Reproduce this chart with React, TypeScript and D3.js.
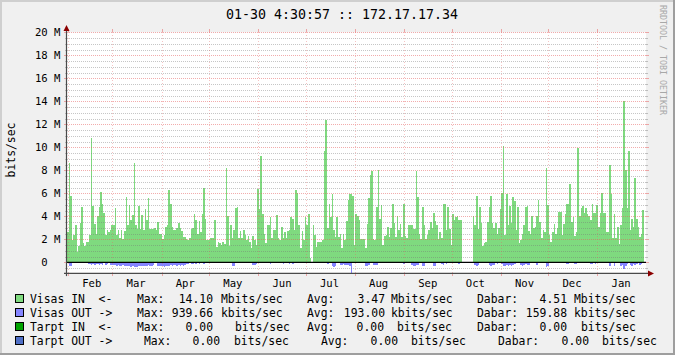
import React, { useEffect } from 'react';
import * as d3 from 'd3';

// ---- Data (values in Mbit/s, one per day starting 2010-01-31) ----
const visasIn: (number | null)[] = [
  // Feb - mid Apr
  2.67, 8.6, 5.8, 1.9, 2.4, 3.2, 0.9, 1.45, 3.4, 4.8,
  1.7, 1.4, 1.8, 1.8, 2.4, 10.8, 4.9, 3.3, 2.5, 4.0,
  4.8, 6.1, 5.1, 4.3, 2.4, 2.8, 2.6, 2.8, 3.2, 3.2,
  4.7, 2.4, 2.8, 2.1, 2.8, 2.0, 2.7, 5.7, 3.2, 5.0,
  3.7, 4.1, 8.6, 3.2, 2.9, 4.9, 2.9, 4.1, 2.8, 4.6,
  3.7, 5.6, 2.9, 2.9, 2.9, 3.0, 2.8, 3.5, 2.5, 2.5,
  2.0, 2.4, 3.1, 3.2, 6.3, 5.1, 3.1, 2.8, 2.8, 3.0,
  3.4,
  // mid Apr - late Jun
  3.0, 2.7, 2.2, 2.2, 2.0, 1.9, 2.1, 2.9, 3.0, 4.2,
  3.7, 2.5, 3.6, 2.6, 4.2, 6.5, 3.8, 1.9, 1.9, 2.1,
  2.1, 2.1, 3.7, 1.3, 1.8, 1.7, 1.5, 1.8, 1.6, 8.2,
  4.0, 1.4, 3.2, 2.1, 2.8, 4.7, 4.8, 2.1, 2.7, 2.1,
  2.8, 2.4, 1.9, 2.3, 1.8, 1.2, 2.3, 1.9, 1.5, 6.4,
  4.6, 9.2, 4.2, 2.5, 1.7, 3.2, 3.2, 3.9, 2.1, 2.8,
  2.8, 4.1, 2.1, 1.9, 3.1, 2.1, 2.6, 2.1, 2.7, 2.8,
  3.9, 3.8, 2.8,
  // late Jun - early Sep
  6.3, 6.0, 3.2, 1.2, 2.7, 1.9, 3.9, 3.2, 4.2, 0.4,
  null, 3.2, 2.4, 1.3, 1.8, 1.8, 1.8, 1.9, 9.7, 12.4,
  3.0, 5.1, 3.9, 5.9, 2.8, 2.2, 3.9, 2.2, 2.5, 1.2,
  2.5, 1.9, 3.6, 5.4, 5.9, 5.9, 5.8, 1.5, 4.2, 4.0,
  3.7, 2.0, 2.0, 2.0, 1.2, 3.3, 5.6, 7.6, 7.9, 2.0,
  1.9, 4.8, 8.0, 3.8, 5.0, 1.5, 2.3, 2.4, 3.1, 2.2,
  3.0, 5.1, 3.4, 2.2, 4.0, 2.8, 3.3, 2.2, 5.1, 2.3,
  2.1, 3.2, 3.2,
  // early Sep - mid Nov
  3.2, 2.9, 2.9, 7.9, 5.7, 2.5, 2.0, 4.8, 3.2, 2.0,
  2.4, 2.8, 3.5, 3.0, 4.3, 3.6, 3.2, 2.0, 2.6, 2.1,
  5.1, 5.1, 2.8, 4.8, 2.9, 1.5, 4.2, 3.7, 3.9, 4.0,
  3.7, 3.7, null, null, null, null, null, null, null,
  4.0, 3.2, 5.8, 2.9, 4.8, 3.4, 1.4, 1.7, 1.8, 3.5,
  4.8, 5.8, 3.4, 3.0, 3.4, 2.5, 3.0, 4.6, 6.0, 10.1,
  2.4, 5.9, 3.2, 4.9, 3.4, 5.7, 5.3, 2.8, 4.8, 1.7,
  1.9, 2.5, 3.2, 4.8,
  // mid Nov - Jan 30
  4.9, 2.75, 2.5, 4.0, 3.0, 3.1, 4.0, 5.4, 3.5, 2.1,
  2.8, 2.6, 8.2, 5.0, 2.4, 1.8, 2.6, 3.3, 2.5, 3.0,
  4.4, 4.4, 2.4, 3.3, 4.2, 5.1, 5.1, 6.8, 3.5, 3.9,
  2.3, 2.6, 9.9, 4.0, 4.7, 4.9, 4.3, 4.7, 4.2, 4.0,
  3.7, 5.1, 4.3, 4.3, 5.0, 3.1, 4.3, 6.0, 4.3, 4.3,
  2.6, 2.6, 8.5, 5.9, 2.1, 4.2, 2.1, 3.1, 1.6, 3.2,
  4.7, 14.0, 8.0, 4.7, 9.7, 2.8, 3.8, 3.1, 7.3, 3.8,
  3.1, 2.2, 2.5, 4.55,
];

const visasOut: (number | null)[] = [
  0.05, 0.3, 0.3, 0.1, 0.05, 0.0, 0.0, 0.1, 0.05, 0.1,
  0.0, 0.0, 0.05, 0.15, 0.15, 0.2, 0.15, 0.2, 0.15, 0.15,
  0.2, 0.15, 0.25, 0.1, 0.2, 0.15, 0.1, 0.2, 0.25, 0.2,
  0.25, 0.3, 0.25, 0.3, 0.3, 0.25, 0.3, 0.35, 0.3, 0.35,
  0.4, 0.35, 0.45, 0.4, 0.45, 0.35, 0.3, 0.3, 0.35, 0.3,
  0.3, 0.25, 0.3, 0.3, 0.25, 0.1, 0.1, 0.3, 0.35, 0.3,
  0.35, 0.4, 0.3, 0.35, 0.3, 0.25, 0.3, 0.2, 0.25, 0.3,
  0.2,
  0.3, 0.25, 0.3, 0.2, 0.15, 0.15, 0.1, 0.15, 0.15, 0.1,
  0.15, 0.1, 0.15, 0.1, 0.1, 0.15, 0.1, 0.0, 0.05, 0.1,
  0.1, 0.05, 0.0, 0.05, 0.1, 0.0, 0.05, 0.1, 0.1, 0.05,
  0.1, 0.1, 0.05, 0.35, 0.3, 0.1, 0.1, 0.1, 0.1, 0.05,
  0.1, 0.1, 0.05, 0.0, 0.05, 0.1, 0.2, 0.25, 0.15, 0.1,
  0.05, 0.0, 0.05, 0.1, 0.1, 0.1, 0.1, 0.15, 0.1, 0.05,
  0.1, 0.1, 0.1, 0.1, 0.1, 0.15, 0.1, 0.1, 0.1, 0.15,
  0.1, 0.15, 0.1,
  0.1, 0.1, 0.05, 0.1, 0.1, 0.05, 0.1, 0.1, 0.0, 0.0,
  null, 0.05, 0.0, 0.0, 0.05, 0.0, 0.0, 0.1, 0.1, 0.1,
  0.15, 0.05, 0.1, 0.35, 0.4, 0.3, 0.1, 0.05, 0.2, 0.2,
  0.15, 0.25, 0.2, 0.2, 0.3, 0.94, 0.1, 0.1, 0.05, 0.1,
  0.05, 0.0, 0.0, 0.1, 0.3, 0.35, 0.25, 0.05, 0.1, 0.2,
  0.25, 0.2, 0.05, 0.0, 0.05, 0.1, 0.05, 0.0, 0.05, 0.1,
  0.05, 0.0, 0.05, 0.05, 0.0, 0.1, 0.1, 0.05, 0.15, 0.1,
  0.1, 0.05, 0.1,
  0.25, 0.3, 0.3, 0.25, 0.2, 0.1, 0.1, 0.3, 0.3, 0.05,
  0.1, 0.05, 0.0, 0.05, 0.3, 0.35, 0.05, 0.05, 0.1, 0.15,
  0.2, 0.1, 0.15, 0.05, 0.05, 0.1, 0.1, 0.05, 0.1, 0.1,
  0.15, 0.1, null, null, null, null, null, null, null,
  0.1, 0.2, 0.3, 0.2, 0.1, 0.05, 0.05, 0.0, 0.05, 0.1,
  0.25, 0.3, 0.2, 0.25, 0.1, 0.15, 0.05, 0.0, 0.15, 0.3,
  0.35, 0.25, 0.3, 0.2, 0.3, 0.25, 0.15, 0.1, 0.05, 0.1,
  0.25, 0.3, 0.2, 0.15,
  0.25, 0.2, 0.05, 0.05, 0.1, 0.05, 0.25, 0.1, 0.05, 0.05,
  0.05, 0.1, 0.4, 0.35, 0.05, 0.0, 0.05, 0.05, 0.05, 0.1,
  0.1, 0.05, 0.05, 0.05, 0.05, 0.15, 0.15, 0.1, 0.05, 0.05,
  0.15, 0.15, 0.1, 0.05, 0.05, 0.05, 0.05, 0.0, 0.05, 0.05,
  0.15, 0.15, 0.1, 0.15, 0.05, 0.1, 0.05, 0.05, 0.0, 0.05,
  0.05, 0.05, 0.3, 0.1, 0.05, 0.35, 0.1, 0.05, 0.05, 0.3,
  0.25, 0.6, 0.3, 0.15, 0.1, 0.2, 0.3, 0.15, 0.25, 0.15,
  0.1, 0.2, 0.15, 0.1,
];

const yTicks = [0, 2, 4, 6, 8, 10, 12, 14, 16, 18, 20];
const yTickLabels = ['0  ', '2 M', '4 M', '6 M', '8 M', '10 M', '12 M', '14 M', '16 M', '18 M', '20 M'];
const monthLabels = ['Feb', 'Mar', 'Apr', 'May', 'Jun', 'Jul', 'Aug', 'Sep', 'Oct', 'Nov', 'Dec', 'Jan'];

const titleText = '01-30 4:30:57 :: 172.17.17.34';
const yAxisTitle = 'bits/sec';
const watermark = 'RRDTOOL / TOBI OETIKER';

const seriesNames = ['Visas IN  <-', 'Visas OUT ->', 'Tarpt IN  <-', 'Tarpt OUT ->'];
const maxVals = ['14.10', '939.66', '0.00', '0.00'];
const avgVals = ['3.47', '193.00', '0.00', '0.00'];
const dabarVals = ['4.51', '159.88', '0.00', '0.00'];
const units = ['Mbits/sec', 'kbits/sec', 'bits/sec', 'bits/sec'];

// ---- Styles / layout ----
const COLORS = ['#7FDA7F', '#8585FF', '#00A300', '#4F6FC6'];
const FONT = '"DejaVu Sans Mono", monospace';
// per legend row: [Max:, value end, unit, Avg:, value end, unit, Dabar:, value end, unit]
const LEG_X = [
  [137, 213, 221, 307, 385, 391, 477, 567, 574],
  [137, 213, 221, 307, 385, 391, 477, 567, 574],
  [137, 213, 235, 307, 384, 397, 477, 567, 581],
  [144, 220, 234, 321, 398, 411, 498, 589, 602],
];
const LEG_Y = [299, 313, 327, 341];

export default function App() {
  useEffect(() => {
    document.body.style.margin = '0';
  }, []);

  const W = 675, H = 355;
  const L = 67, R = 646, T = 32.3, B = 273.1;
  const DAY = 864e5;
  const t0 = Date.UTC(2010, 0, 31, 9);
  const t1 = t0 + 365.3 * DAY;
  const x = d3.scaleUtc().domain([new Date(t0), new Date(t1)]).range([L, R]);
  const y = d3.scaleLinear().domain([-0.94, 20]).range([B, T]);

  type P = { t: Date; v: number } | null;
  const steps = (vals: (number | null)[], sign: number): P[] => {
    const pts: P[] = [];
    vals.forEach((v, i) => {
      if (v == null) { pts.push(null); return; }
      pts.push({ t: new Date(t0 + i * DAY), v: sign * v });
      pts.push({ t: new Date(t0 + (i + 1) * DAY), v: sign * v });
    });
    return pts;
  };
  const area = d3.area<P>()
    .defined((d) => d != null)
    .x((d) => x((d as any).t))
    .y0(y(0))
    .y1((d) => y((d as any).v));

  const inPath = area(steps(visasIn, 1)) || '';
  const outPath = area(steps(visasOut, -1)) || '';

  const px = (v: number) => Math.round(v) + 0.5;

  const minorY: number[] = [];
  for (let v = -0.5; v <= 20.001; v += 0.5) {
    if (Math.abs(v / 2 - Math.round(v / 2)) > 1e-6 || v < 0) minorY.push(v);
  }
  const months = d3.utcMonth.range(new Date(t0), new Date(t1));
  const y0 = y(0);
  const gT = Math.round(T), gB = Math.round(B);

  const minorCol = 'rgba(120,120,120,0.42)';
  const majorCol = 'rgba(230,90,90,0.5)';
  const vMajorCol = 'rgba(230,100,100,0.38)';

  return (
    <svg width={W} height={H} style={{ position: 'absolute', left: 0, top: 0, display: 'block' }}
      fontFamily={FONT}>
      <rect x={0} y={0} width={W} height={H} fill="#F0F0F0" />
      <rect x={0} y={0} width={W} height={2} fill="#CFCFCF" />
      <rect x={0} y={0} width={2} height={H} fill="#CFCFCF" />
      <rect x={0} y={H - 2} width={W} height={2} fill="#9E9E9E" />
      <rect x={W - 2} y={0} width={2} height={H} fill="#9E9E9E" />

      {/* canvas */}
      <rect x={L} y={T} width={R - L} height={B - T} fill="#FFFFFF" />

      {/* data */}
      <path d={inPath} fill={COLORS[0]} shapeRendering="crispEdges" />
      <path d={outPath} fill={COLORS[1]} shapeRendering="crispEdges" />

      {/* grid */}
      <g shapeRendering="crispEdges" strokeWidth={1}>
        {minorY.map((v) => (
          <g key={'mi' + v}>
            <line x1={L} x2={R} y1={px(y(v))} y2={px(y(v))} stroke={minorCol} strokeDasharray="1,1" />
            <line x1={L - 2} x2={L} y1={px(y(v))} y2={px(y(v))} stroke={minorCol} />
            <line x1={R} x2={R + 2} y1={px(y(v))} y2={px(y(v))} stroke={minorCol} />
          </g>
        ))}
        {yTicks.map((v) => (
          <g key={'ma' + v}>
            <line x1={L} x2={R} y1={px(y(v))} y2={px(y(v))} stroke={majorCol} strokeDasharray="1,1" />
            <line x1={L - 3} x2={L} y1={px(y(v))} y2={px(y(v))} stroke={majorCol} />
            <line x1={R} x2={R + 3} y1={px(y(v))} y2={px(y(v))} stroke={majorCol} />
          </g>
        ))}
        {months.map((m) => (
          <g key={'mo' + m.getTime()}>
            <line x1={px(x(m))} x2={px(x(m))} y1={gT} y2={gB} stroke={vMajorCol} strokeDasharray="1,2" />
            <line x1={px(x(m))} x2={px(x(m))} y1={gB} y2={gB + 3} stroke={majorCol} />
            <line x1={px(x(m))} x2={px(x(m))} y1={gT - 3} y2={gT} stroke={majorCol} />
          </g>
        ))}
      </g>

      {/* zero rule */}
      <line x1={L} x2={R} y1={y0} y2={y0} stroke="#000" strokeWidth={1.3} />

      {/* axes */}
      <line x1={L - 0.5} x2={L - 0.5} y1={B + 3} y2={27} stroke="#4a4a4a" strokeWidth={1.2} />
      <line x1={L - 3} x2={650} y1={B + 0.3} y2={B + 0.3} stroke="#4a4a4a" strokeWidth={1.2} />
      <path d={`M${L - 3.5},31 L${L - 0.5},25 L${L + 2.5},31 Z`} fill="#8B0000" />
      <path d={`M648,${B - 2.7} L654,${B + 0.3} L648,${B + 3.3} Z`} fill="#8B0000" />

      {/* y labels */}
      {yTicks.map((v, i) => (
        <text key={'yl' + v} x={60.5} y={y(v)} textAnchor="end" dominantBaseline="central"
          fontSize={10.6} fill="#000" style={{ whiteSpace: 'pre' }}>{yTickLabels[i]}</text>
      ))}
      <text transform="translate(10.5,150) rotate(-90)" textAnchor="middle" dominantBaseline="central"
        fontSize={11.4} fill="#000">{yAxisTitle}</text>

      {/* month labels */}
      {months.map((m, i) => (
        <text key={'ml' + i} x={x(new Date(m.getTime() + 15 * DAY))} y={282.5} textAnchor="middle"
          dominantBaseline="central" fontSize={10.6} fill="#000">{monthLabels[i]}</text>
      ))}

      {/* title */}
      <text x={342} y={14} textAnchor="middle" dominantBaseline="central" fontSize={13.3} fill="#000">
        {titleText}
      </text>

      {/* watermark */}
      <text transform="translate(663,5) rotate(90)" dominantBaseline="central" fontSize={8.3}
        fill="#A8A8A8">{watermark}</text>

      {/* legend */}
      {seriesNames.map((name, r) => {
        const cx = LEG_X[r];
        const yy = LEG_Y[r];
        const tp = { y: yy, dominantBaseline: 'central' as const, fontSize: 11.4, fill: '#000', style: { whiteSpace: 'pre' as const } };
        return (
          <g key={'lg' + r}>
            <rect x={15.5} y={yy - 4.5} width={8} height={8} fill={COLORS[r]} stroke="#000" strokeWidth={1} />
            <text x={30} {...tp}>{name}</text>
            <text x={cx[0]} {...tp}>Max:</text>
            <text x={cx[1]} textAnchor="end" {...tp}>{maxVals[r]}</text>
            <text x={cx[2]} {...tp}>{units[r]}</text>
            <text x={cx[3]} {...tp}>Avg:</text>
            <text x={cx[4]} textAnchor="end" {...tp}>{avgVals[r]}</text>
            <text x={cx[5]} {...tp}>{units[r]}</text>
            <text x={cx[6]} {...tp}>Dabar:</text>
            <text x={cx[7]} textAnchor="end" {...tp}>{dabarVals[r]}</text>
            <text x={cx[8]} {...tp}>{units[r]}</text>
          </g>
        );
      })}
    </svg>
  );
}
